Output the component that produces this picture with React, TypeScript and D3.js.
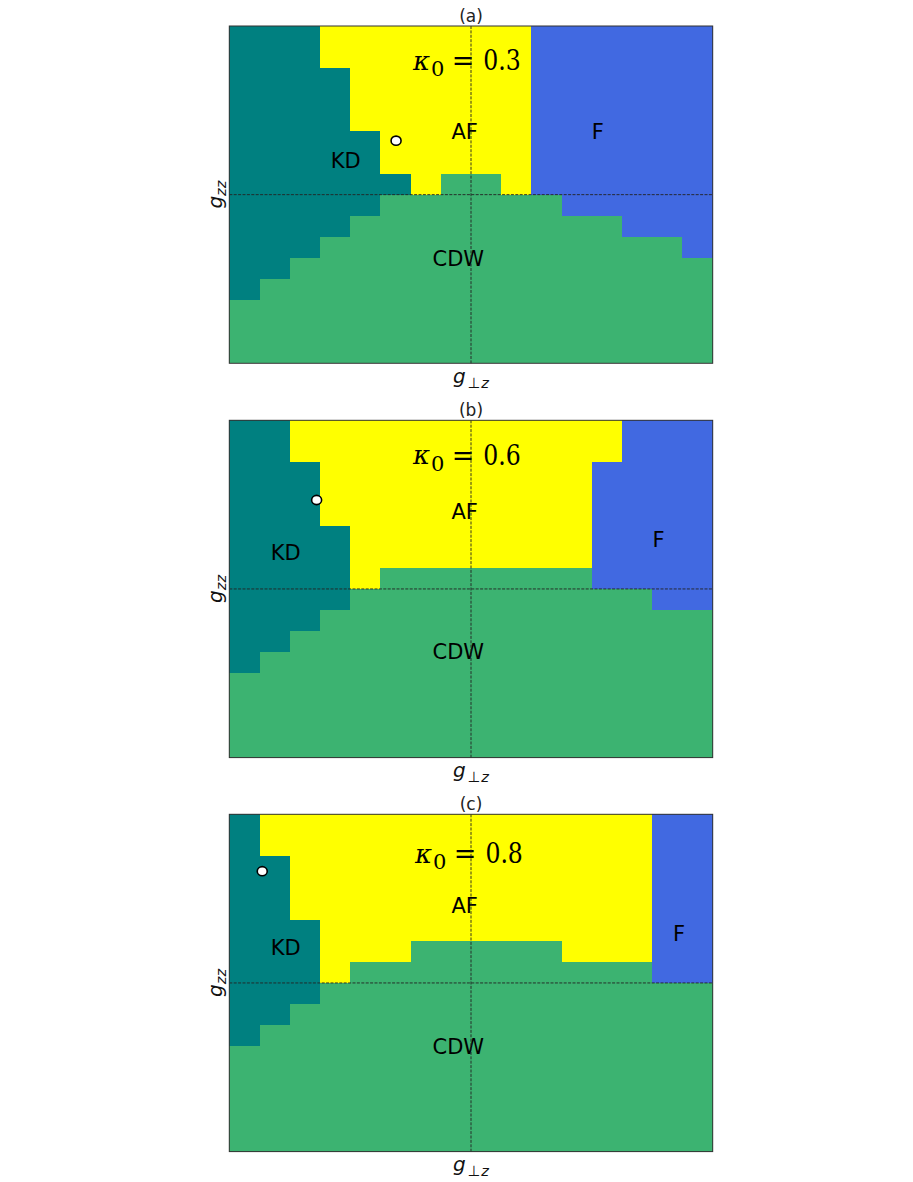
import React from 'react';
import * as d3 from 'd3';

// phase grids, 16 x 16, rows from top (large g_zz) to bottom
// K = KD, A = AF, F = F, C = CDW
const gridA = [
  'KKKAAAAAAAFFFFFF',
  'KKKAAAAAAAFFFFFF',
  'KKKKAAAAAAFFFFFF',
  'KKKKAAAAAAFFFFFF',
  'KKKKAAAAAAFFFFFF',
  'KKKKKAAAAAFFFFFF',
  'KKKKKAAAAAFFFFFF',
  'KKKKKKACCAFFFFFF',
  'KKKKKCCCCCCFFFFF',
  'KKKKCCCCCCCCCFFF',
  'KKKCCCCCCCCCCCCF',
  'KKCCCCCCCCCCCCCC',
  'KCCCCCCCCCCCCCCC',
  'CCCCCCCCCCCCCCCC',
  'CCCCCCCCCCCCCCCC',
  'CCCCCCCCCCCCCCCC',
];
const gridB = [
  'KKAAAAAAAAAAAFFF',
  'KKAAAAAAAAAAAFFF',
  'KKKAAAAAAAAAFFFF',
  'KKKAAAAAAAAAFFFF',
  'KKKAAAAAAAAAFFFF',
  'KKKKAAAAAAAAFFFF',
  'KKKKAAAAAAAAFFFF',
  'KKKKACCCCCCCFFFF',
  'KKKKCCCCCCCCCCFF',
  'KKKCCCCCCCCCCCCC',
  'KKCCCCCCCCCCCCCC',
  'KCCCCCCCCCCCCCCC',
  'CCCCCCCCCCCCCCCC',
  'CCCCCCCCCCCCCCCC',
  'CCCCCCCCCCCCCCCC',
  'CCCCCCCCCCCCCCCC',
];
const gridC = [
  'KAAAAAAAAAAAAAFF',
  'KAAAAAAAAAAAAAFF',
  'KKAAAAAAAAAAAAFF',
  'KKAAAAAAAAAAAAFF',
  'KKAAAAAAAAAAAAFF',
  'KKKAAAAAAAAAAAFF',
  'KKKAAACCCCCAAAFF',
  'KKKACCCCCCCCCCFF',
  'KKKCCCCCCCCCCCCC',
  'KKCCCCCCCCCCCCCC',
  'KCCCCCCCCCCCCCCC',
  'CCCCCCCCCCCCCCCC',
  'CCCCCCCCCCCCCCCC',
  'CCCCCCCCCCCCCCCC',
  'CCCCCCCCCCCCCCCC',
  'CCCCCCCCCCCCCCCC',
];

const panelTitles = ['(a)', '(b)', '(c)'];
const kappaValues = ['0.3', '0.6', '0.8'];
// kappa annotation anchor (grid units: column, row)
const kappaAnchors = [[7.9, 2.09], [7.9, 2.12], [7.97, 2.33]];
// open circle markers (grid units)
const markerPoints = [[5.52, 5.44], [2.89, 3.78], [1.09, 2.7]];
// phase name labels (grid units)
const labelsA = [['AF', 7.79, 5.03], ['F', 12.2, 5.03], ['KD', 3.85, 6.4], ['CDW', 7.58, 11.04]];
const labelsB = [['AF', 7.79, 4.34], ['F', 14.21, 5.68], ['KD', 1.87, 6.3], ['CDW', 7.58, 10.99]];
const labelsC = [['AF', 7.79, 4.34], ['F', 14.89, 5.69], ['KD', 1.87, 6.33], ['CDW', 7.58, 11.03]];

const grids = [gridA, gridB, gridC];
const labelSets = [labelsA, labelsB, labelsC];

const phaseColor: Record<string, string> = {
  K: '#008080',
  A: '#ffff00',
  F: '#4169e1',
  C: '#3cb371',
};

const N = 16;
const left = 229.3;
const W = 483.4;
const H = 337.3;
const tops = [26, 420.3, 814.3];

function Panel({ idx }: { idx: number }) {
  const top = tops[idx];
  const grid = grids[idx];
  const xb = d3.scaleBand<number>().domain(d3.range(N)).range([0, W]);
  const yb = d3.scaleBand<number>().domain(d3.range(N)).range([0, H]);
  const x = d3.scaleLinear().domain([0, N]).range([0, W]);
  const y = d3.scaleLinear().domain([0, N]).range([0, H]);

  // merge runs of equal phase in each row
  const runs: { r: number; c0: number; c1: number; p: string }[] = [];
  grid.forEach((row, r) => {
    let c0 = 0;
    for (let c = 1; c <= N; c++) {
      if (c === N || row[c] !== row[c0]) {
        runs.push({ r, c0, c1: c, p: row[c0] });
        c0 = c;
      }
    }
  });

  const [kx, ky] = kappaAnchors[idx];
  const ax = x(kx);
  const ay = y(ky);
  const [mx, my] = markerPoints[idx];

  return (
    <g transform={`translate(${left},${top})`}>
      {runs.map((d, i) => (
        <rect
          key={i}
          x={xb(d.c0)}
          y={yb(d.r)}
          width={x(d.c1) - x(d.c0)}
          height={yb.bandwidth()}
          fill={phaseColor[d.p]}
          shapeRendering="crispEdges"
        />
      ))}
      {labelSets[idx].map(([t, lx, ly]) => (
        <text
          key={t as string}
          x={x(lx as number)}
          y={y(ly as number)}
          textAnchor="middle"
          dominantBaseline="central"
          fontFamily="DejaVu Sans"
          fontSize={21}
          fill="#000"
        >
          {t}
        </text>
      ))}
      <g fontFamily="DejaVu Serif" fill="#000">
        <text x={ax - 55} y={ay - 0.5} fontSize={26} fontStyle="italic">κ</text>
        <text x={ax - 37} y={ay + 6} fontSize={21}>0</text>
        <text x={ax - 5} y={ay} fontSize={27} textAnchor="middle">=</text>
        <text x={ax + 15.3} y={ay} fontSize={27} textLength={37.5} lengthAdjust="spacingAndGlyphs">
          {kappaValues[idx]}
        </text>
      </g>
      <line x1={0} x2={W} y1={y(N / 2)} y2={y(N / 2)} stroke="#222" strokeWidth={0.9} strokeDasharray="3,1.4" />
      <line x1={x(N / 2)} x2={x(N / 2)} y1={0} y2={H} stroke="#222" strokeWidth={0.9} strokeDasharray="3,1.4" />
      <ellipse cx={x(mx)} cy={y(my)} rx={5} ry={4.6} fill="#fff" stroke="#000" strokeWidth={1.6} />
      <rect x={0} y={0} width={W} height={H} fill="none" stroke="#333" strokeWidth={1} />
      <text x={W / 2} y={-4.4} textAnchor="middle" fontFamily="DejaVu Sans" fontSize={17} fill="#222">
        {panelTitles[idx]}
      </text>
      <text x={W / 2} y={H + 19.7} textAnchor="middle" fontFamily="DejaVu Sans" fontSize={20} fill="#111">
        <tspan fontStyle="italic">g</tspan>
        <tspan fontSize={14.5} dx={2} dy={5}>⊥</tspan>
        <tspan fontSize={14.5} dx={1} fontStyle="italic">z</tspan>
      </text>
      <text
        transform={`translate(-7.8,${H / 2}) rotate(-90)`}
        textAnchor="middle"
        fontFamily="DejaVu Sans"
        fontSize={20}
        fill="#111"
      >
        <tspan fontStyle="italic">g</tspan>
        <tspan fontSize={14.5} fontStyle="italic" dy={4}>zz</tspan>
      </text>
    </g>
  );
}

export default function App() {
  return (
    <svg
      width={913}
      height={1182}
      style={{ position: 'absolute', left: 0, top: 0, background: '#fff' }}
    >
      <rect width={913} height={1182} fill="#fff" />
      {panelTitles.map((_, i) => (
        <Panel key={i} idx={i} />
      ))}
    </svg>
  );
}
